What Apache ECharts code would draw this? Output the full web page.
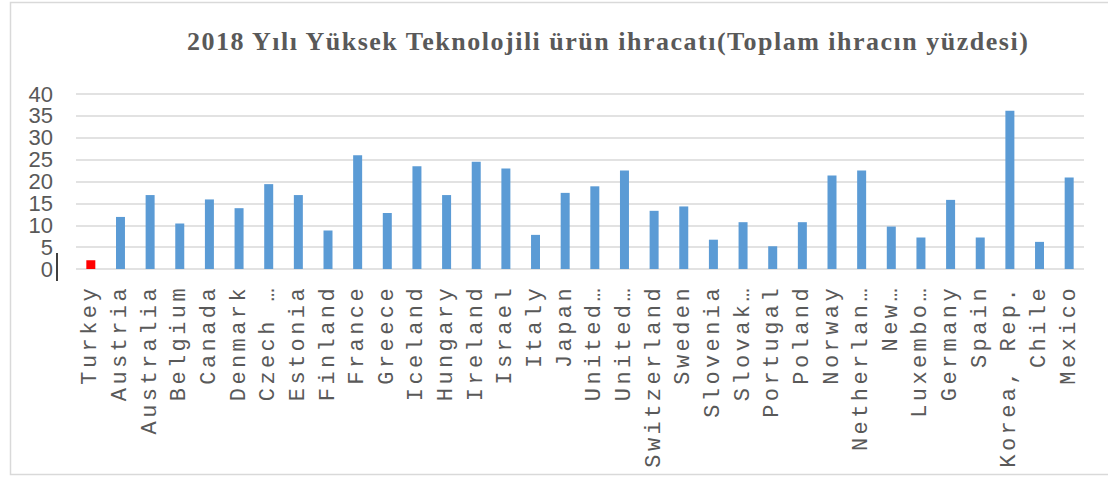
<!DOCTYPE html>
<html>
<head>
<meta charset="utf-8">
<script src="https://cdn.jsdelivr.net/npm/echarts@6/dist/echarts.min.js"></script>
<style>
  html, body { margin: 0; padding: 0; background: #fff; }
  #chart { width: 1108px; height: 478px; }
</style>
</head>
<body>
<div id="chart"></div>
<script>
// ---- data ----
const titleText = '2018 Yılı Yüksek Teknolojili ürün ihracatı(Toplam ihracın yüzdesi)';
const categories = [
  'Turkey', 'Austria', 'Australia', 'Belgium', 'Canada', 'Denmark', 'Czech …',
  'Estonia', 'Finland', 'France', 'Greece', 'Iceland', 'Hungary', 'Ireland',
  'Israel', 'Italy', 'Japan', 'United…', 'United…', 'Switzerland', 'Sweden',
  'Slovenia', 'Slovak…', 'Portugal', 'Poland', 'Norway', 'Netherlan…', 'New…',
  'Luxembo…', 'Germany', 'Spain', 'Korea, Rep.', 'Chile', 'Mexico'
];
const values = [
  2.0, 11.9, 16.9, 10.4, 15.9, 13.9, 19.4,
  16.9, 8.8, 26.0, 12.8, 23.5, 16.9, 24.5,
  23.0, 7.8, 17.4, 18.9, 22.5, 13.3, 14.3,
  6.7, 10.7, 5.2, 10.7, 21.4, 22.5, 9.7,
  7.2, 15.8, 7.2, 36.2, 6.2, 20.9
];
const highlightCategory = 'Turkey';
const yMin = 0, yMax = 40, yStep = 5;

// ---- chart ----
const chart = echarts.init(document.getElementById('chart'), null, { renderer: 'svg' });
const labelSet = new Set(categories);

const option = {
  animation: false,
  backgroundColor: '#ffffff',
  title: {
    text: titleText,
    left: 182,
    top: 23,
    textStyle: {
      fontFamily: 'Liberation Serif',
      fontWeight: 'bold',
      fontSize: 26,
      color: '#595959'
    }
  },
  grid: { left: 76, right: 24, top: 94, bottom: 209, containLabel: false },
  xAxis: {
    type: 'category',
    data: categories,
    axisLine: { show: false },
    axisTick: { show: false },
    axisLabel: {
      interval: 0,
      rotate: 90,
      margin: 16,
      fontFamily: 'Liberation Mono',
      fontSize: 22,
      color: '#595959'
    }
  },
  yAxis: {
    type: 'value',
    min: yMin,
    max: yMax,
    interval: yStep,
    axisLine: { show: false },
    axisTick: { show: false },
    splitLine: { lineStyle: { color: '#d9d9d9', width: 1.5 } },
    axisLabel: {
      margin: 23,
      showMinLabel: true,
      showMaxLabel: true,
      hideOverlap: false,
      fontFamily: 'Liberation Sans',
      fontSize: 22,
      color: '#595959'
    }
  },
  series: [{
    type: 'bar',
    data: values,
    barWidth: 9,
    itemStyle: {
      color: function (p) { return p.name === highlightCategory ? '#ff0000' : '#5b9bd5'; }
    }
  }],
  graphic: [
    {
      type: 'rect',
      silent: true,
      shape: { x: 10.5, y: 2.5, width: 1120, height: 472 },
      style: { fill: null, stroke: '#d9d9d9', lineWidth: 1.5 }
    },
    {
      type: 'line',
      silent: true,
      shape: { x1: 57, y1: 253, x2: 57, y2: 281 },
      style: { stroke: '#000000', lineWidth: 1.5 }
    }
  ]
};
chart.setOption(option);

function spaceLabels() {
  const texts = document.querySelectorAll('#chart svg text');
  texts.forEach(function (t) {
    const s = t.textContent;
    if (labelSet.has(s)) {
      t.setAttribute('letter-spacing', '3.4');
    } else if (s === titleText) {
      t.setAttribute('letter-spacing', '1.5');
    }
  });
}
chart.on('finished', spaceLabels);
spaceLabels();
setTimeout(spaceLabels, 50);
</script>
</body>
</html>
